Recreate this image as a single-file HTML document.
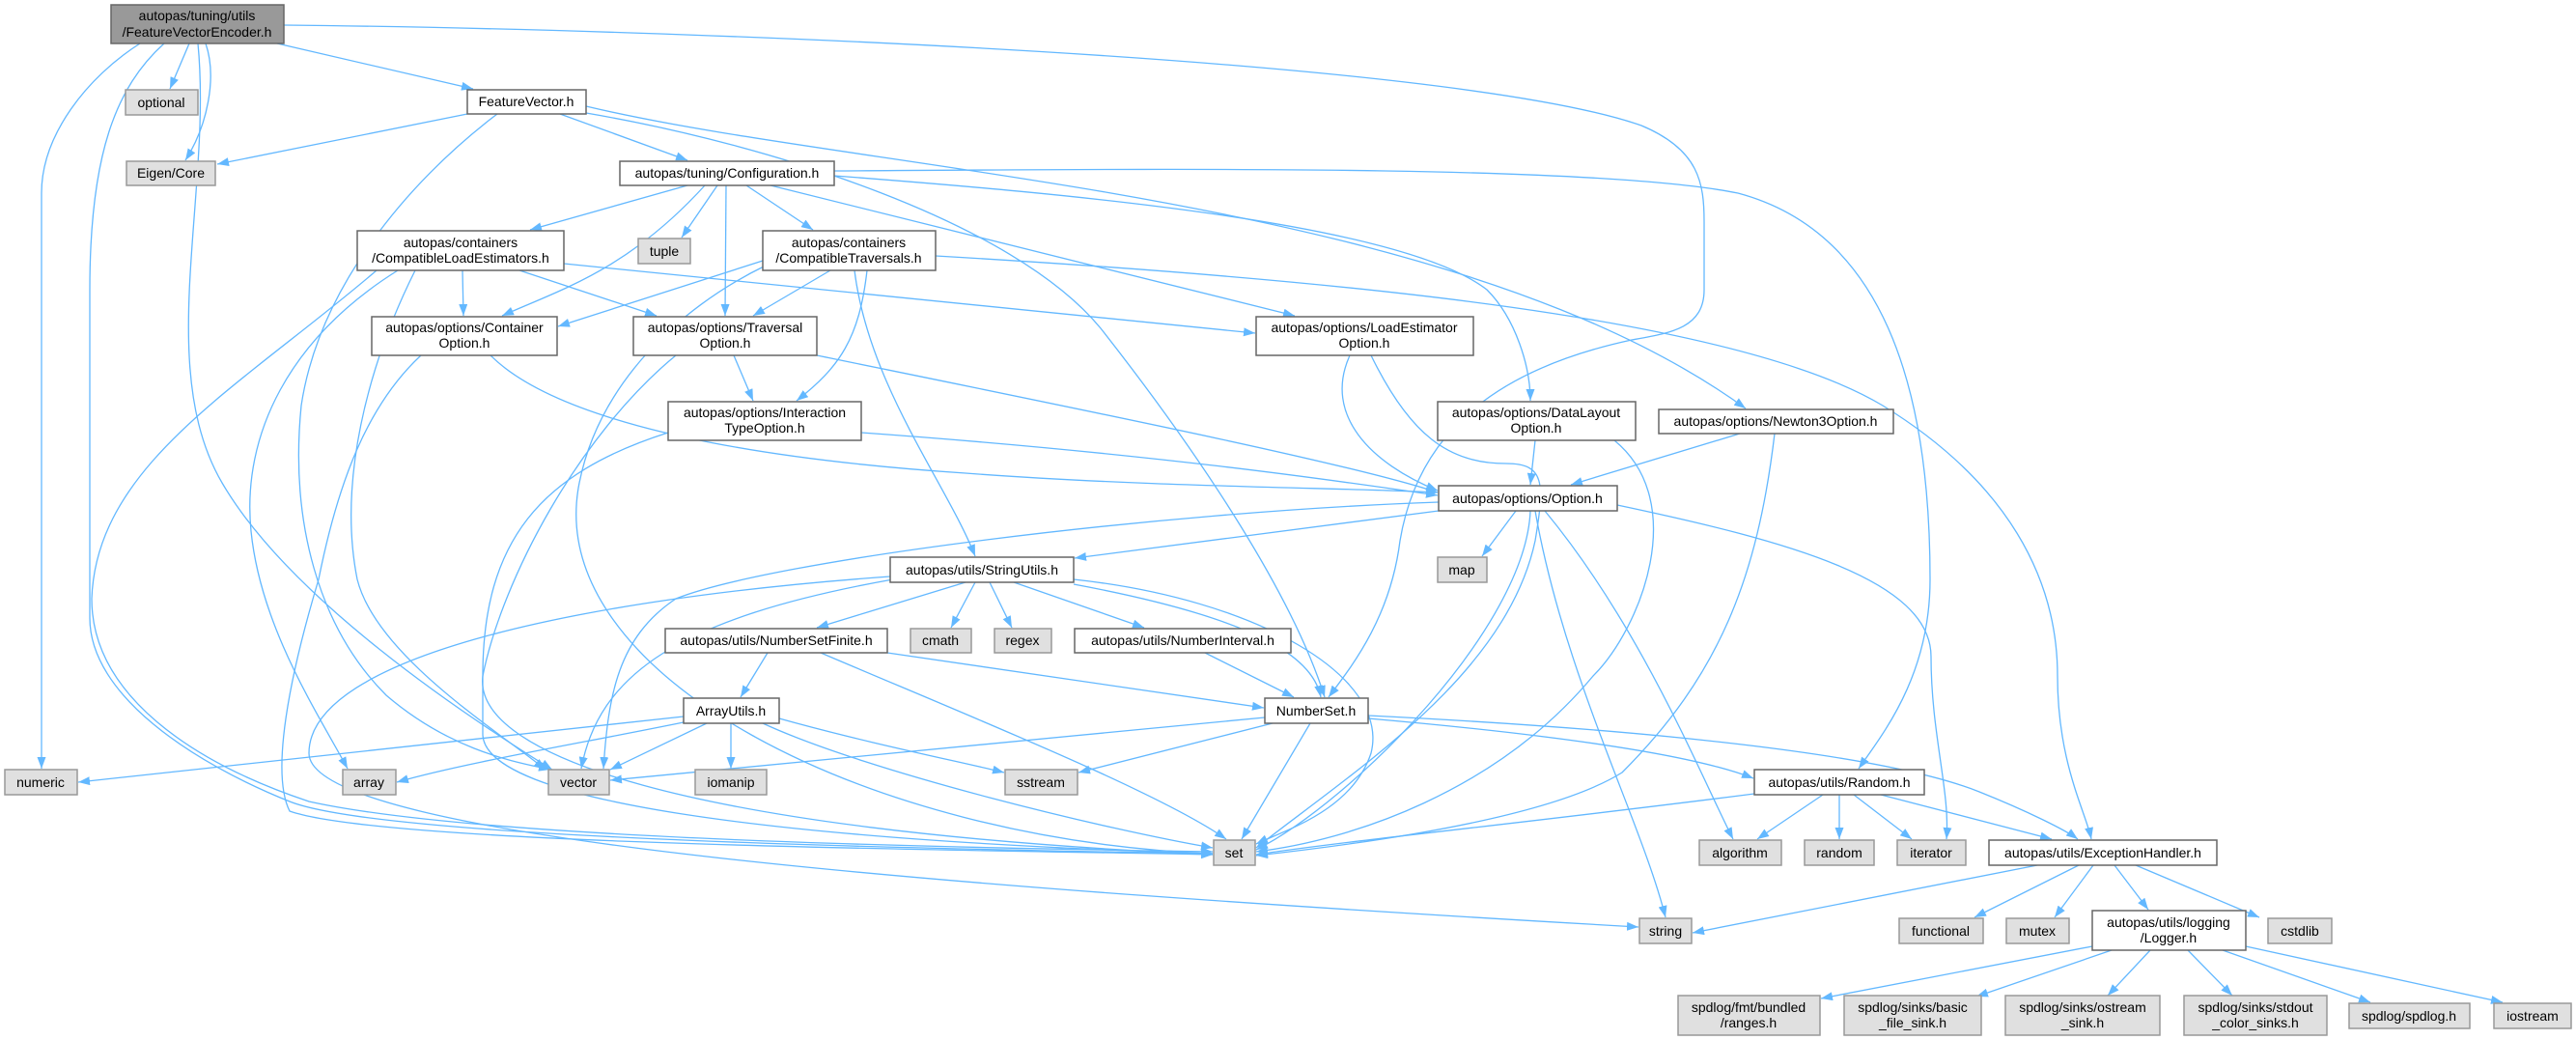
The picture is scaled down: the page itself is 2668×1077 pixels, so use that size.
<!DOCTYPE html>
<html><head><meta charset="utf-8"><style>
html,body{margin:0;padding:0;background:#fff;}
svg{display:block;}
text{font-family:"Liberation Sans",sans-serif;font-size:14px;fill:#000;text-anchor:middle;}
.e{fill:none;stroke:#63b8ff;stroke-width:1.3;marker-end:url(#a);}
.w{fill:#fff;stroke:#666;stroke-width:1.5;}
.g{fill:#e0e0e0;stroke:#999;stroke-width:1.5;}
.r{fill:#999;stroke:#666;stroke-width:1.5;}
</style></head><body>
<svg width="2668" height="1077" viewBox="0 0 2668 1077" xmlns="http://www.w3.org/2000/svg">
<defs><marker id="a" markerUnits="userSpaceOnUse" markerWidth="12" markerHeight="9" refX="12" refY="4.5" orient="auto"><path d="M0,0 L12,4.5 L0,9 z" fill="#63b8ff"/></marker></defs>
<g>
<path class="e" d="M196,45 L176,92"/>
<path class="e" d="M213,45 C225,80 215,130 192,166"/>
<path class="e" d="M287,45 L490,92"/>
<path class="e" d="M145,45 C90,80 43,140 43,200 L43,796"/>
<path class="e" d="M170,45 C120,90 93,160 93,300 L93,640 C93,720 200,790 300,830 C400,870 1000,880 1256,884"/>
<path class="e" d="M205,45 C220,200 160,380 230,500 S480,740 572,797"/>
<path class="e" d="M294,26 C700,30 1500,60 1700,130 C1760,155 1765,190 1765,230 L1765,300 C1765,340 1730,345 1690,352 C1560,380 1470,440 1450,560 C1440,640 1400,690 1376,722"/>
<path class="e" d="M484,118 L225,170"/>
<path class="e" d="M580,118 L712,166"/>
<path class="e" d="M515,118 C420,190 330,300 312,420 C300,540 330,650 400,720 C470,780 540,790 570,797"/>
<path class="e" d="M607,117 C800,150 1050,230 1140,340 C1250,480 1340,620 1372,722"/>
<path class="e" d="M607,110 C900,180 1500,200 1808,423"/>
<path class="e" d="M712,192 L549,238"/>
<path class="e" d="M743,192 L706,246"/>
<path class="e" d="M773,192 L842,238"/>
<path class="e" d="M752,192 L751,327"/>
<path class="e" d="M730,192 C650,280 580,300 520,327"/>
<path class="e" d="M798,192 L1341,327"/>
<path class="e" d="M864,182 C1100,200 1450,230 1540,300 C1570,330 1585,380 1585,415"/>
<path class="e" d="M864,177 C1200,175 1650,170 1800,200 C1950,240 1999,400 1999,600 C1999,700 1950,760 1925,796"/>
<path class="e" d="M969,265 C1400,290 1800,330 1950,420 C2080,500 2131,600 2131,700 C2131,790 2160,840 2166,869"/>
<path class="e" d="M479,280 L480,327"/>
<path class="e" d="M538,280 L680,327"/>
<path class="e" d="M584,273 L1300,345"/>
<path class="e" d="M412,280 C300,350 250,450 260,550 C270,650 330,740 360,796"/>
<path class="e" d="M430,280 C380,380 350,500 370,600 C390,680 520,760 565,797"/>
<path class="e" d="M390,280 C250,400 100,480 95,620 C95,720 200,790 320,830 C500,870 1000,878 1256,882"/>
<path class="e" d="M790,270 L578,338"/>
<path class="e" d="M860,280 L780,327"/>
<path class="e" d="M898,280 C890,350 870,380 825,415"/>
<path class="e" d="M885,280 C900,400 980,500 1010,576"/>
<path class="e" d="M793,275 C700,320 620,400 600,500 C560,700 900,870 1256,884"/>
<path class="e" d="M508,368 C560,420 700,470 1000,490 C1200,505 1400,505 1489,510"/>
<path class="e" d="M436,368 C380,420 350,500 330,600 C300,700 280,800 300,840 C400,875 1000,880 1256,885"/>
<path class="e" d="M760,368 L780,415"/>
<path class="e" d="M846,368 C1100,420 1400,480 1489,510"/>
<path class="e" d="M700,368 C600,450 520,600 500,700 C490,780 700,860 1256,885"/>
<path class="e" d="M892,448 C1200,470 1400,500 1489,513"/>
<path class="e" d="M692,448 C560,490 500,560 500,700 L500,760 C500,830 800,870 1256,884"/>
<path class="e" d="M1398,368 C1370,430 1420,480 1489,508"/>
<path class="e" d="M1420,368 C1460,450 1500,480 1560,480 C1600,480 1600,500 1590,560 C1560,700 1400,800 1301,878"/>
<path class="e" d="M1590,456 L1585,502"/>
<path class="e" d="M1672,456 C1750,520 1700,650 1650,700 C1550,820 1400,870 1301,882"/>
<path class="e" d="M1802,449 L1627,502"/>
<path class="e" d="M1838,449 C1820,600 1780,700 1680,800 C1600,850 1400,875 1301,886"/>
<path class="e" d="M1490,529 L1113,578"/>
<path class="e" d="M1570,529 L1535,576"/>
<path class="e" d="M1490,520 C1200,530 800,580 700,620 C640,660 630,720 625,796"/>
<path class="e" d="M1585,529 C1580,650 1400,830 1301,880"/>
<path class="e" d="M1590,529 C1620,700 1700,850 1725,950"/>
<path class="e" d="M1600,529 C1700,650 1760,800 1795,869"/>
<path class="e" d="M1675,523 C1850,560 2000,600 2000,680 C2000,760 2020,820 2016,869"/>
<path class="e" d="M1000,603 L846,650"/>
<path class="e" d="M1010,603 L985,650"/>
<path class="e" d="M1025,603 L1048,650"/>
<path class="e" d="M1050,603 L1185,650"/>
<path class="e" d="M1112,605 C1300,640 1360,680 1368,722"/>
<path class="e" d="M925,600 C700,640 620,700 602,796"/>
<path class="e" d="M1112,600 C1300,620 1440,700 1420,780 C1400,840 1330,860 1301,874"/>
<path class="e" d="M922,597 C600,620 320,680 320,780 C320,870 1000,920 1697,960"/>
<path class="e" d="M795,676 L767,722"/>
<path class="e" d="M919,676 L1309,733"/>
<path class="e" d="M850,676 C1000,740 1200,820 1270,869"/>
<path class="e" d="M1248,676 L1340,722"/>
<path class="e" d="M708,742 L81,810"/>
<path class="e" d="M708,748 C600,770 480,790 411,810"/>
<path class="e" d="M732,749 L632,797"/>
<path class="e" d="M757,749 L757,796"/>
<path class="e" d="M807,744 C900,770 1000,790 1040,800"/>
<path class="e" d="M790,749 C900,800 1150,860 1256,878"/>
<path class="e" d="M1310,743 L632,808"/>
<path class="e" d="M1318,749 L1117,800"/>
<path class="e" d="M1357,749 L1286,869"/>
<path class="e" d="M1417,744 C1600,760 1750,780 1816,806"/>
<path class="e" d="M1417,741 C1700,755 1950,780 2050,820 C2100,840 2140,860 2152,869"/>
<path class="e" d="M1817,822 C1600,850 1400,870 1301,885"/>
<path class="e" d="M1888,823 L1820,869"/>
<path class="e" d="M1905,823 L1905,869"/>
<path class="e" d="M1920,823 L1980,869"/>
<path class="e" d="M1948,823 L2125,869"/>
<path class="e" d="M2110,896 L1753,966"/>
<path class="e" d="M2153,896 L2045,950"/>
<path class="e" d="M2168,896 L2128,950"/>
<path class="e" d="M2190,896 L2225,942"/>
<path class="e" d="M2212,896 L2340,950"/>
<path class="e" d="M2167,980 L1886,1034"/>
<path class="e" d="M2187,984 L2047,1032"/>
<path class="e" d="M2227,984 L2183,1031"/>
<path class="e" d="M2266,984 L2312,1031"/>
<path class="e" d="M2302,984 L2455,1038"/>
<path class="e" d="M2326,980 L2592,1038"/>
</g>
<g>
<rect class="r" x="115" y="5" width="179" height="40"/><text x="204" y="21">autopas/tuning/utils</text><text x="204" y="38">/FeatureVectorEncoder.h</text>
<rect class="g" x="130" y="93" width="75" height="26"/><text x="167" y="111">optional</text>
<rect class="g" x="131" y="167" width="92" height="25"/><text x="177" y="184">Eigen/Core</text>
<rect class="w" x="484" y="93" width="123" height="25"/><text x="545" y="110">FeatureVector.h</text>
<rect class="w" x="642" y="167" width="222" height="25"/><text x="753" y="184">autopas/tuning/Configuration.h</text>
<rect class="w" x="370" y="239" width="214" height="41"/><text x="477" y="256">autopas/containers</text><text x="477" y="272">/CompatibleLoadEstimators.h</text>
<rect class="g" x="661" y="247" width="54" height="26"/><text x="688" y="265">tuple</text>
<rect class="w" x="790" y="239" width="179" height="41"/><text x="879" y="256">autopas/containers</text><text x="879" y="272">/CompatibleTraversals.h</text>
<rect class="w" x="385" y="328" width="192" height="40"/><text x="481" y="344">autopas/options/Container</text><text x="481" y="360">Option.h</text>
<rect class="w" x="656" y="328" width="190" height="40"/><text x="751" y="344">autopas/options/Traversal</text><text x="751" y="360">Option.h</text>
<rect class="w" x="1301" y="328" width="225" height="40"/><text x="1413" y="344">autopas/options/LoadEstimator</text><text x="1413" y="360">Option.h</text>
<rect class="w" x="692" y="416" width="200" height="40"/><text x="792" y="432">autopas/options/Interaction</text><text x="792" y="448">TypeOption.h</text>
<rect class="w" x="1489" y="416" width="205" height="40"/><text x="1591" y="432">autopas/options/DataLayout</text><text x="1591" y="448">Option.h</text>
<rect class="w" x="1718" y="424" width="243" height="25"/><text x="1839" y="441">autopas/options/Newton3Option.h</text>
<rect class="w" x="1490" y="503" width="185" height="26"/><text x="1582" y="521">autopas/options/Option.h</text>
<rect class="g" x="1489" y="577" width="51" height="26"/><text x="1514" y="595">map</text>
<rect class="w" x="922" y="577" width="190" height="26"/><text x="1017" y="595">autopas/utils/StringUtils.h</text>
<rect class="w" x="689" y="651" width="230" height="25"/><text x="804" y="668">autopas/utils/NumberSetFinite.h</text>
<rect class="g" x="943" y="651" width="63" height="25"/><text x="974" y="668">cmath</text>
<rect class="g" x="1030" y="651" width="59" height="25"/><text x="1059" y="668">regex</text>
<rect class="w" x="1113" y="651" width="224" height="25"/><text x="1225" y="668">autopas/utils/NumberInterval.h</text>
<rect class="w" x="708" y="723" width="99" height="26"/><text x="757" y="741">ArrayUtils.h</text>
<rect class="w" x="1310" y="723" width="107" height="26"/><text x="1363" y="741">NumberSet.h</text>
<rect class="g" x="5" y="797" width="75" height="26"/><text x="42" y="815">numeric</text>
<rect class="g" x="355" y="797" width="55" height="26"/><text x="382" y="815">array</text>
<rect class="g" x="568" y="797" width="63" height="26"/><text x="599" y="815">vector</text>
<rect class="g" x="720" y="797" width="74" height="26"/><text x="757" y="815">iomanip</text>
<rect class="g" x="1041" y="797" width="75" height="26"/><text x="1078" y="815">sstream</text>
<rect class="w" x="1817" y="797" width="176" height="26"/><text x="1905" y="815">autopas/utils/Random.h</text>
<rect class="g" x="1257" y="870" width="43" height="26"/><text x="1278" y="888">set</text>
<rect class="g" x="1760" y="870" width="85" height="26"/><text x="1802" y="888">algorithm</text>
<rect class="g" x="1869" y="870" width="72" height="26"/><text x="1905" y="888">random</text>
<rect class="g" x="1965" y="870" width="71" height="26"/><text x="2000" y="888">iterator</text>
<rect class="w" x="2060" y="870" width="236" height="26"/><text x="2178" y="888">autopas/utils/ExceptionHandler.h</text>
<rect class="g" x="1698" y="951" width="54" height="26"/><text x="1725" y="969">string</text>
<rect class="g" x="1967" y="951" width="87" height="26"/><text x="2010" y="969">functional</text>
<rect class="g" x="2078" y="951" width="65" height="26"/><text x="2110" y="969">mutex</text>
<rect class="w" x="2167" y="943" width="159" height="41"/><text x="2246" y="960">autopas/utils/logging</text><text x="2246" y="976">/Logger.h</text>
<rect class="g" x="2349" y="951" width="66" height="26"/><text x="2382" y="969">cstdlib</text>
<rect class="g" x="1738" y="1031" width="147" height="41"/><text x="1811" y="1048">spdlog/fmt/bundled</text><text x="1811" y="1064">/ranges.h</text>
<rect class="g" x="1910" y="1031" width="142" height="41"/><text x="1981" y="1048">spdlog/sinks/basic</text><text x="1981" y="1064">_file_sink.h</text>
<rect class="g" x="2077" y="1031" width="160" height="41"/><text x="2157" y="1048">spdlog/sinks/ostream</text><text x="2157" y="1064">_sink.h</text>
<rect class="g" x="2262" y="1031" width="148" height="41"/><text x="2336" y="1048">spdlog/sinks/stdout</text><text x="2336" y="1064">_color_sinks.h</text>
<rect class="g" x="2433" y="1039" width="125" height="26"/><text x="2495" y="1057">spdlog/spdlog.h</text>
<rect class="g" x="2583" y="1039" width="80" height="26"/><text x="2623" y="1057">iostream</text>
</g>
</svg>
</body></html>
